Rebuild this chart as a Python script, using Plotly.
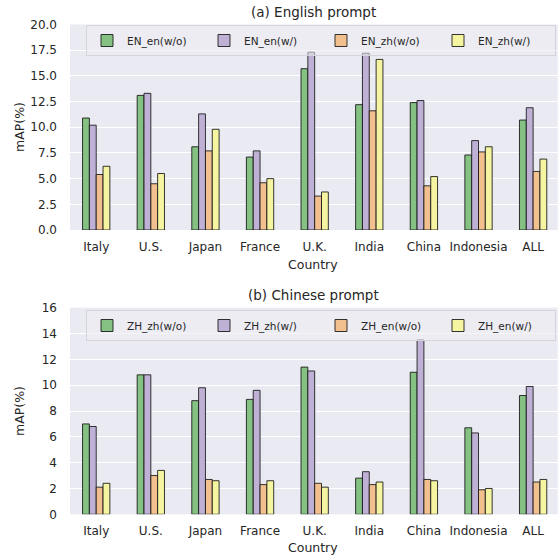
import plotly.graph_objects as go

countries = ["Italy", "U.S.", "Japan", "France", "U.K.", "India", "China", "Indonesia", "ALL"]

# (a) English prompt
en_names = ["EN_en(w/o)", "EN_en(w/)", "EN_zh(w/o)", "EN_zh(w/)"]
en_en_wo = [10.9, 13.1, 8.1, 7.1, 15.7, 12.2, 12.4, 7.3, 10.7]
en_en_w = [10.2, 13.3, 11.3, 7.7, 17.3, 17.2, 12.6, 8.7, 11.9]
en_zh_wo = [5.4, 4.5, 7.7, 4.6, 3.3, 11.6, 4.3, 7.6, 5.7]
en_zh_w = [6.2, 5.5, 9.8, 5.0, 3.7, 16.6, 5.2, 8.1, 6.9]

# (b) Chinese prompt
zh_names = ["ZH_zh(w/o)", "ZH_zh(w/)", "ZH_en(w/o)", "ZH_en(w/)"]
zh_zh_wo = [7.0, 10.8, 8.8, 8.9, 11.4, 2.8, 11.0, 6.7, 9.2]
zh_zh_w = [6.8, 10.8, 9.8, 9.6, 11.1, 3.3, 13.5, 6.3, 9.9]
zh_en_wo = [2.1, 3.0, 2.7, 2.3, 2.4, 2.3, 2.7, 1.9, 2.5]
zh_en_w = [2.4, 3.4, 2.6, 2.6, 2.1, 2.5, 2.6, 2.0, 2.7]

colors = ["#84c183", "#bfb1d5", "#f2c08e", "#f5f4a0"]

W, H = 558, 557
FONT = "DejaVu Sans"
TXT = "#262626"


def px(x):
    return x / W


def py(y):
    return (H - y) / H


fig = go.Figure()

top_series = [en_en_wo, en_en_w, en_zh_wo, en_zh_w]
bot_series = [zh_zh_wo, zh_zh_w, zh_en_wo, zh_en_w]

for name, vals, c in zip(en_names, top_series, colors):
    fig.add_trace(go.Bar(x=countries, y=vals, name=name,
                         marker=dict(color=c, line=dict(color="rgba(20,20,20,0.85)", width=1)),
                         xaxis="x", yaxis="y", legend="legend"))
for name, vals, c in zip(zh_names, bot_series, colors):
    fig.add_trace(go.Bar(x=countries, y=vals, name=name,
                         marker=dict(color=c, line=dict(color="rgba(20,20,20,0.85)", width=1)),
                         xaxis="x2", yaxis="y2", legend="legend2"))

xdom = [px(70), px(557.7)]
top_dom = [py(230), py(24.5)]
bot_dom = [py(514.3), py(307.7)]

xcommon = dict(type="category", range=[-0.48, 8.45], showgrid=False, zeroline=False, showline=False,
               automargin=False, ticks="", tickfont=dict(family=FONT, size=12, color=TXT),
               ticklabelstandoff=8, domain=xdom)
ycommon = dict(showgrid=True, gridcolor="white", gridwidth=1, zeroline=False, showline=False, ticks="",
               automargin=False, tickfont=dict(family=FONT, size=12, color=TXT), ticklabelstandoff=12)

legcommon = dict(orientation="h", xanchor="left", yanchor="top", bgcolor="rgba(236,236,243,0.55)",
                 bordercolor="#d4d4dc", borderwidth=1, font=dict(family=FONT, size=10.5, color=TXT),
                 entrywidth=72, entrywidthmode="pixels", itemclick=False, traceorder="normal")

fig.update_layout(
    width=W, height=H, margin=dict(l=0, r=0, t=0, b=0, autoexpand=False),
    paper_bgcolor="white", plot_bgcolor="#eaeaf2",
    barmode="group", bargap=0.5, bargroupgap=0,
    xaxis=dict(**xcommon, anchor="y"),
    yaxis=dict(**ycommon, domain=top_dom, range=[0, 20], dtick=2.5, tickformat=".1f", anchor="x"),
    xaxis2=dict(**xcommon, anchor="y2"),
    yaxis2=dict(**ycommon, domain=bot_dom, range=[0, 16], dtick=2, anchor="x2"),
    legend=dict(**legcommon, x=px(86), y=py(25)),
    legend2=dict(**legcommon, x=px(86), y=py(310)),
    showlegend=True,
    font=dict(family=FONT, color=TXT),
)


def ann(text, x, y, size, angle=0):
    fig.add_annotation(text=text, x=px(x), y=py(y), xref="paper", yref="paper",
                       showarrow=False, font=dict(family=FONT, size=size, color=TXT),
                       xanchor="center", yanchor="middle", textangle=angle)


ann("(a) English prompt", 313.5, 12, 13.5)
ann("(b) Chinese prompt", 313.5, 295, 13.5)
ann("Country", 313.5, 264, 12.5)
ann("Country", 313.5, 547, 12.5)
ann("mAP(%)", 19, 127, 12.5, -90)
ann("mAP(%)", 19, 411, 12.5, -90)

fig.write_html("out.html", config={"displayModeBar": False},
               post_script="document.body.style.margin='0';")
